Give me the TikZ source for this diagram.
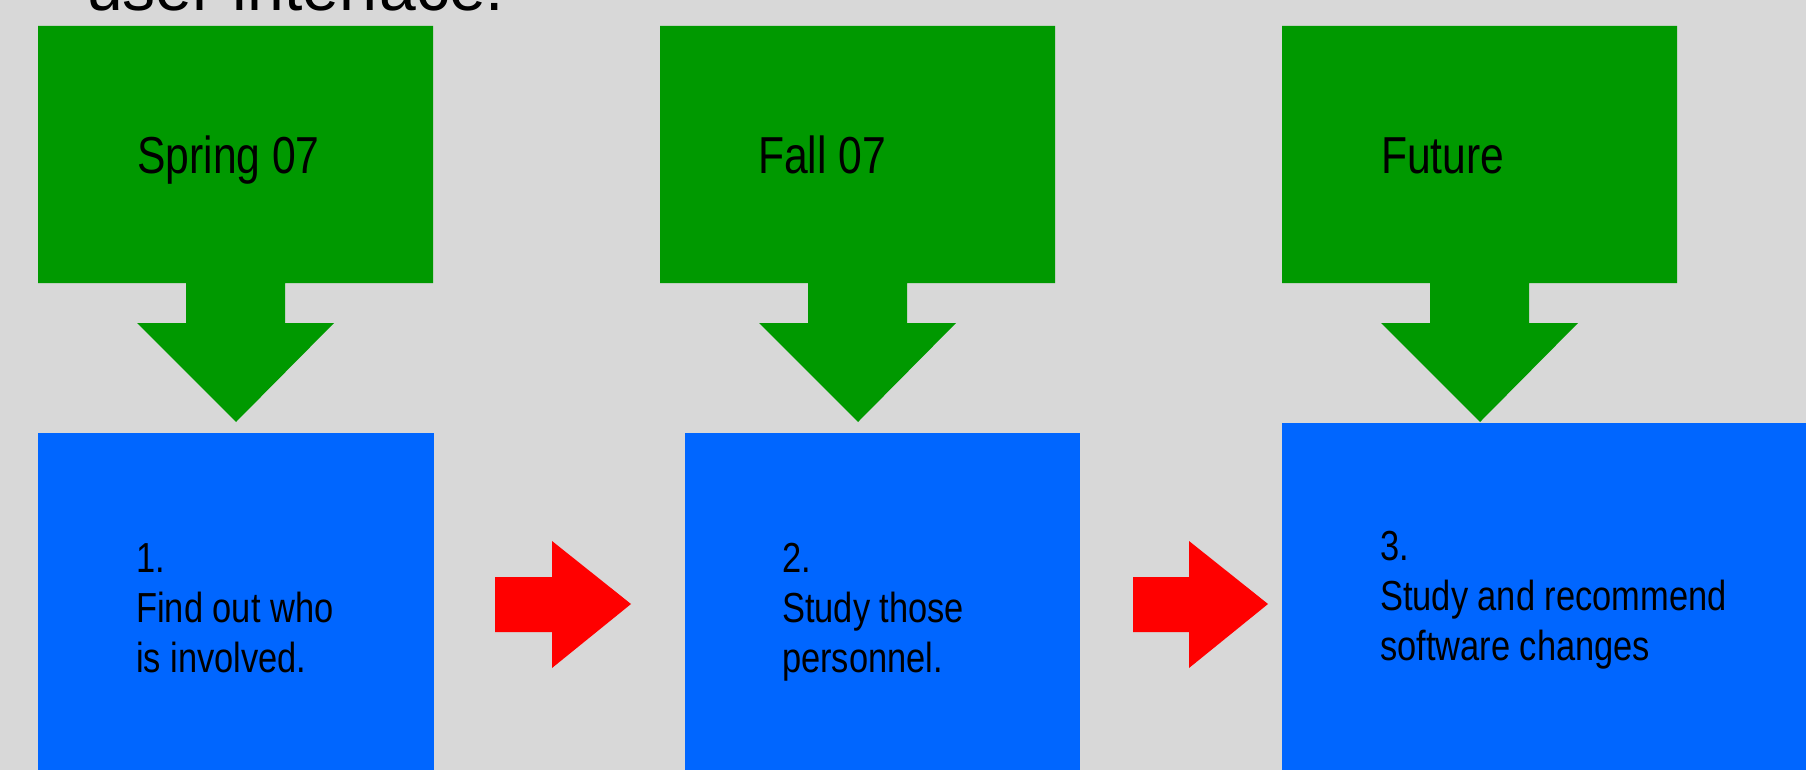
\documentclass[tikz,border=0pt]{standalone}
\usepackage{fontspec}
\setmainfont{Liberation Sans}[FakeStretch=0.82]
\newfontfamily\titlefont{Liberation Sans}
\definecolor{bg}{HTML}{D8D8D8}
\definecolor{grn}{HTML}{009900}
\definecolor{blu}{HTML}{0066FF}
\definecolor{rd}{HTML}{FF0000}
\tikzset{
  callout/.style={fill=grn, draw=none},
  bluebox/.style={fill=blu, draw=none},
  redarrow/.style={fill=rd, draw=none},
  headtext/.style={anchor=base west, inner sep=0pt, font=\fontsize{52}{60}\selectfont},
  bodytext/.style={anchor=base west, inner sep=0pt, align=left, font=\fontsize{42}{50}\selectfont},
}
\begin{document}
\begin{tikzpicture}[x=1pt, y=-1pt]
\useasboundingbox (0,0) rectangle (1806,770);
\clip (0,0) rectangle (1806,770);
\fill[bg] (0,0) rectangle (1806,770);
% title (cut off at top)
\node[anchor=base west, inner sep=0pt, font=\titlefont\fontsize{66}{72}\selectfont] (title) at (86,11) {user interface.};
% green callouts
\foreach \dx in {0,622,1244} {
  \fill[callout] ({38+\dx},26) -- ({433+\dx},26) -- ({433+\dx},283) -- ({285+\dx},283) -- ({285+\dx},323)
    -- ({334+\dx},323) -- ({236+\dx},422) -- ({137+\dx},323) -- ({186+\dx},323) -- ({186+\dx},283)
    -- ({38+\dx},283) -- cycle;
}
% blue boxes
\fill[bluebox] (38,433) rectangle (434,780);
\fill[bluebox] (685,433) rectangle (1080,780);
\fill[bluebox] (1282,423) rectangle (1816,780);
% red arrows
\fill[redarrow] (495,577) -- (552,577) -- (552,541) -- (631,604) -- (552,668) -- (552,632) -- (495,632) -- cycle;
\fill[redarrow] (1133,577) -- (1189,577) -- (1189,541) -- (1268,604) -- (1189,668) -- (1189,632) -- (1133,632) -- cycle;
% labels
\node[headtext] (h1) at (137,174) {Spring 07};
\node[headtext] (h2) at (758,174) {Fall 07};
\node[headtext] (h3) at (1381,174) {Future};
\node[bodytext] (b1) at (136,672) {1.\\Find out who\\is involved.};
\node[bodytext] (b2) at (782,672) {2.\\Study those\\personnel.};
\node[bodytext] (b3) at (1380,660) {3.\\Study and recommend\\software changes};
\end{tikzpicture}
\end{document}
